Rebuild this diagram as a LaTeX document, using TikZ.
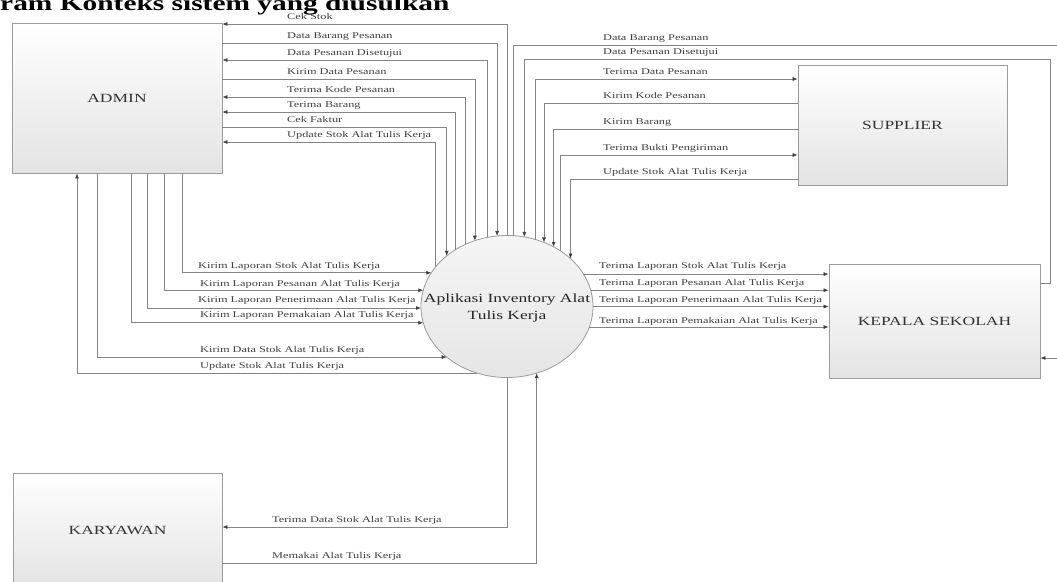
\documentclass[tikz,border=0pt]{standalone}
\usepackage{fontspec}
\setmainfont{Liberation Serif}
\newfontfamily\lebar{Liberation Serif}[FakeStretch=1.4]
\usetikzlibrary{shapes.geometric}
\usetikzlibrary{arrows.meta}
\definecolor{garis}{HTML}{858585}
\definecolor{tepi}{HTML}{9C9C9C}
\tikzset{
	entitas/.style n args={2}{draw=tepi, line width=0.8pt, top color=white, bottom color=black!11, minimum width=#1, minimum height=#2, inner sep=0pt, font=\lebar\fontsize{12.5}{14}\selectfont, text=black!80}
}
\tikzset{
	proses/.style={ellipse, draw=tepi, line width=0.8pt, top color=black!4, bottom color=black!10, minimum width=172, minimum height=142, inner sep=0pt, outer sep=0pt},
	aliran/.style={draw=garis, line width=0.7pt},
	keent/.style={-{Latex[length=5pt,width=4pt,color=black!75]}},
	keapp/.style={{Latex[length=5pt,width=4pt,color=black!75]}-},
	lbl/.style={anchor=base west, inner sep=0pt, font=\lebar\fontsize{8.8}{9}\selectfont, text=black!75}
}
\begin{document}
\begin{tikzpicture}[x=1pt,y=-1pt]
		\useasboundingbox (0,0) rectangle (1057,581);
		\clip (0,0) rectangle (1057,581);
		\fill[white] (0,0) rectangle (1057,581);
		\node[anchor=base west, inner sep=0pt, font=\lebar\bfseries\fontsize{21}{24}\selectfont] (judul) at (0,10) {ram Konteks sistem yang diusulkan};
		\node[entitas={210}{150}] (admin) at (117,98) {ADMIN};
		\node[entitas={209}{120}] (supplier) at (902.5,125) {SUPPLIER};
		\node[entitas={211}{114}] (kepsek) at (934.5,321) {KEPALA SEKOLAH};
		\node[entitas={209}{114}] (karyawan) at (117.5,530) {KARYAWAN};
		\node[proses] (app) at (507,306.5) {};
		\node[align=center, inner sep=0pt, font=\lebar\fontsize{12.5}{17}\selectfont, text=black!85] (appteks) at (507,308) {Aplikasi Inventory Alat\\Tulis Kerja};
		%admin - aplikasi (atas)
		\foreach \yy/\xx/\arah/\teks [count=\i] in {
			24/507/keent/Cek Stok,
			43/496/keapp/Data Barang Pesanan,
			60/486/keent/Data Pesanan Disetujui,
			79/474/keapp/Kirim Data Pesanan,
			97/465/keent/Terima Kode Pesanan,
			112/455/keent/Terima Barang,
			127/446/keapp/Cek Faktur,
			142/435/keent/Update Stok Alat Tulis Kerja}{
			\pgfmathsetmacro\sudut{atan2(71*sqrt(1-((\xx-507)/86)^2),\xx-507)}
			\draw[aliran,\arah] (app.\sudut) |- (admin.east |- 0,\yy);
			\node[lbl] (ta\i) at (287,\yy-4.5) {\teks};
		}
		%supplier
		\foreach \yy/\xx/\arah/\teks [count=\i] in {
			79/535/keent/Terima Data Pesanan,
			103/544/keapp/Kirim Kode Pesanan,
			129/553/keapp/Kirim Barang,
			155/560/keent/Terima Bukti Pengiriman,
			179/570/keapp/Update Stok Alat Tulis Kerja}{
			\pgfmathsetmacro\sudut{atan2(71*sqrt(1-((\xx-507)/86)^2),\xx-507)}
			\draw[aliran,\arah] (app.\sudut) |- (supplier.west |- 0,\yy);
			\node[lbl] (ts\i) at (603,\yy-4.5) {\teks};
		}
		%kepala sekolah lewat kanan
		\coordinate (ujungA) at (1075,45);
		\coordinate (ujungB) at (1050,59);
		\pgfmathsetmacro\sudut{atan2(71*sqrt(1-((513-507)/86)^2),6)}
		\draw[aliran,keent] (app.\sudut) |- (ujungA) |- (kepsek.east |- 0,358);
		\pgfmathsetmacro\sudut{atan2(71*sqrt(1-((524-507)/86)^2),17)}
		\draw[aliran,keapp] (app.\sudut) |- (ujungB) |- (kepsek.east |- 0,283);
		\node[lbl] (tk1) at (603,40.5) {Data Barang Pesanan};
		\node[lbl] (tk2) at (603,54.5) {Data Pesanan Disetujui};
		%admin - aplikasi (bawah)
		\foreach \yy/\xx/\arah/\teks/\lx [count=\i] in {
			273/182/keapp/Kirim Laporan Stok Alat Tulis Kerja/198,
			291/164/keapp/Kirim Laporan Pesanan Alat Tulis Kerja/200,
			307/147/keapp/Kirim Laporan Penerimaan Alat Tulis Kerja/198,
			322/131/keapp/Kirim Laporan Pemakaian Alat Tulis Kerja/200,
			357/97/keapp/Kirim Data Stok Alat Tulis Kerja/200,
			373/77/keent/Update Stok Alat Tulis Kerja/200}{
			\pgfmathsetmacro\sudut{atan2(306.5-\yy,-86*sqrt(1-((306.5-\yy)/71)^2))}
			\draw[aliran,\arah] (app.\sudut) -| (admin.south -| \xx,0);
			\node[lbl] (tb\i) at (\lx,\yy-4.5) {\teks};
		}
		%kepala sekolah
		\foreach \yy/\teks [count=\i] in {
			273/Terima Laporan Stok Alat Tulis Kerja,
			290/Terima Laporan Pesanan Alat Tulis Kerja,
			307/Terima Laporan Penerimaan Alat Tulis Kerja,
			328/Terima Laporan Pemakaian Alat Tulis Kerja}{
			\pgfmathsetmacro\sudut{atan2(306.5-\yy,86*sqrt(1-((306.5-\yy)/71)^2))}
			\draw[aliran,keent] (app.\sudut) -- (kepsek.west |- app.\sudut);
			\node[lbl] (tl\i) at (599,\yy-4.5) {\teks};
		}
		%karyawan
		\draw[aliran,keent] (app.-90) |- (karyawan.east |- 0,527);
		\pgfmathsetmacro\sudut{atan2(-71*sqrt(1-((536-507)/86)^2),29)}
		\draw[aliran,keapp] (app.\sudut) |- (karyawan.east |- 0,563);
		\node[lbl] (tw1) at (272,522.5) {Terima Data Stok Alat Tulis Kerja};
		\node[lbl] (tw2) at (272,558.5) {Memakai Alat Tulis Kerja};
	\end{tikzpicture}
\end{document}
